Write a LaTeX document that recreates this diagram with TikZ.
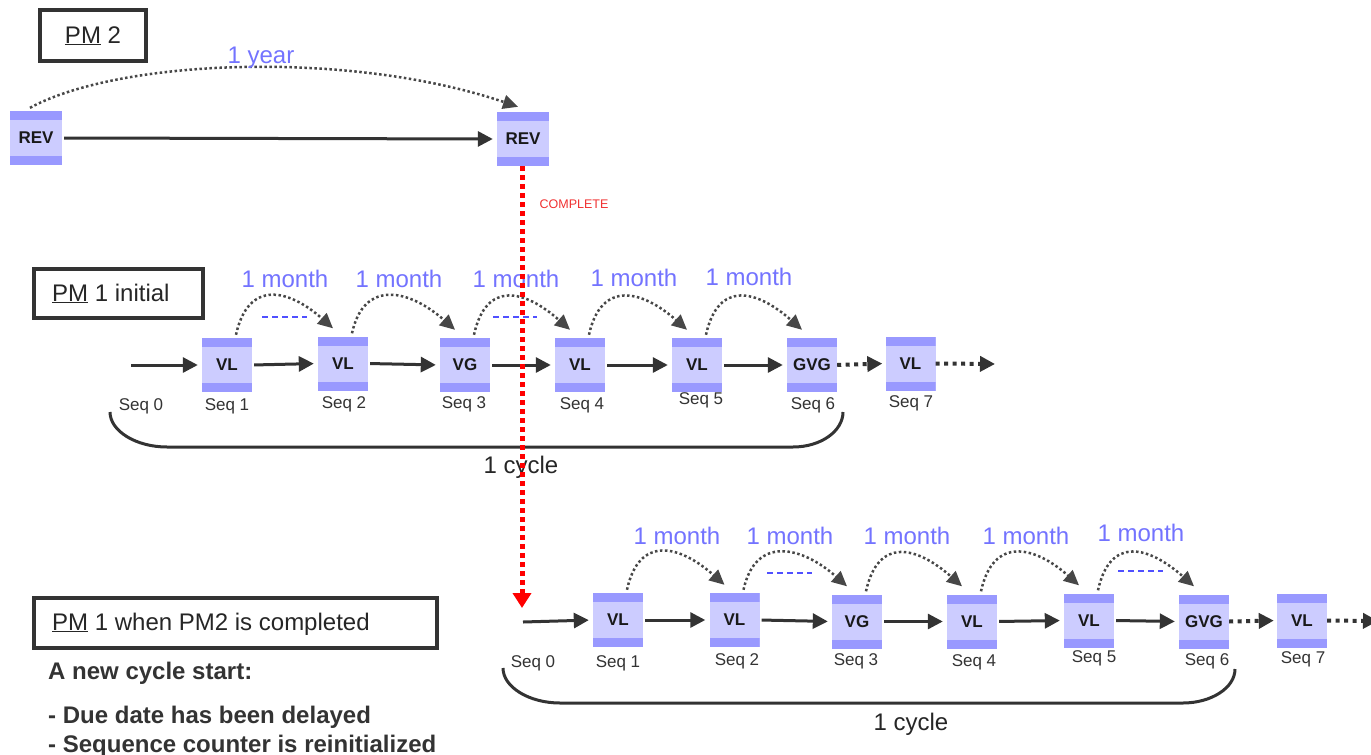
\documentclass[tikz,border=0pt]{standalone}
\usepackage{fontspec}
\setmainfont{Liberation Sans}
\usetikzlibrary{arrows.meta,calc}
\definecolor{boxfill}{HTML}{CCCCFF}
\definecolor{boxband}{HTML}{9999FF}
\definecolor{ink}{HTML}{333333}
\definecolor{lilac}{HTML}{7373FF}
\definecolor{guide}{HTML}{5050FF}
\definecolor{alert}{HTML}{FF0000}
\definecolor{alerttext}{HTML}{F03030}

\tikzset{
  stage/.style={minimum width=50pt, minimum height=54pt, inner sep=0pt, fill=boxfill,
    font=\fontsize{17}{20}\selectfont\bfseries, text=black!90,
    path picture={
      \fill[boxband] (path picture bounding box.north west) rectangle ([yshift=-9pt]path picture bounding box.north east);
      \fill[boxband] (path picture bounding box.south west) rectangle ([yshift=9pt]path picture bounding box.south east);}},
  titlebox/.style={draw=ink, line width=4pt, fill=white, inner sep=0pt},
  titletext/.style={anchor=base west, inner sep=0pt, text=black!85, font=\fontsize{24}{28}\selectfont},
  notetext/.style={anchor=base west, inner sep=0pt, text=ink, font=\fontsize{24}{28}\selectfont\bfseries},
  flow/.style={draw=ink, line width=3pt, -{Triangle[length=15pt,width=15pt]}, shorten <=2pt, shorten >=4pt},
  dotflow/.style={draw=ink, line width=4pt, dash pattern=on 4pt off 4.5pt, -{Triangle[length=15pt,width=15pt]}, shorten >=3pt},
  hop/.style={draw=ink!90, line width=2.5pt, dash pattern=on 2.5pt off 2.5pt, -{Triangle[length=15pt,width=14pt]}},
  period/.style={anchor=base, inner sep=0pt, text=lilac, font=\fontsize{24}{28}\selectfont},
  seqlbl/.style={anchor=base, inner sep=0pt, text=ink, font=\fontsize{17}{20}\selectfont},
  cyclebar/.style={draw=ink, line width=3pt},
  cycletext/.style={anchor=base, inner sep=0pt, text=black!85, font=\fontsize{24}{28}\selectfont},
  ghost/.style={draw=guide, line width=1.2pt, dash pattern=on 6pt off 4pt},
}

\begin{document}
\begin{tikzpicture}[x=1pt,y=-1pt]
\useasboundingbox (0,0) rectangle (1371,755);

% ---------- PM 2 : yearly revision ----------
\node[titlebox, minimum width=106pt, minimum height=51pt] (t2) at (92.5,35) {};
\node[titletext, anchor=base] (t2txt) at (93,43) {\underline{PM} 2};

\node[stage, minimum width=52pt] (r1) at (36,138) {REV};
\node[stage, minimum width=52pt] (r2) at (523,139) {REV};
\draw[flow] (r1.east) -- (r2.west);
\draw[hop] ([xshift=-6pt,yshift=3pt]r1.north) .. controls +(90,-49) and +(-168,-57) .. ([xshift=-5pt,yshift=5pt]r2.north);
\node[period] (yr) at (261,63) {1 year};

\node[anchor=base, inner sep=0pt, text=alerttext, font=\fontsize{12.5}{14}\selectfont] (done) at (574,208) {COMPLETE};

% ---------- PM 1 initial ----------
\node[titlebox, minimum width=169pt, minimum height=49pt] (t1) at (118.5,293.5) {};
\node[titletext] (t1txt) at (52,301) {\underline{PM} 1 initial};

\coordinate (a0) at (131,365);
\node[stage] (a1) at (227,365) {VL};
\node[stage] (a2) at (343,363.5) {VL};
\node[stage] (a3) at (465,365) {VG};
\node[stage] (a4) at (580,365) {VL};
\node[stage] (a5) at (697,365) {VL};
\node[stage] (a6) at (812,365) {GVG};
\node[stage] (a7) at (910.5,363.5) {VL};
\coordinate (a8) at (995,364);

\draw[flow, shorten <=0pt] (a0) -- (a1.west);
\foreach \p/\q in {a1/a2,a2/a3,a3/a4,a4/a5,a5/a6}
  \draw[flow] (\p.east) -- (\q.west);
\draw[dotflow] (a6.east) -- (a7.west);
\draw[dotflow, shorten >=0pt] (a7.east) -- (a8);

\draw[ghost] (262,317) -- (307,317);
\draw[ghost] (493,317) -- (537,317);
\foreach \p/\q in {a1/a2,a2/a3,a3/a4,a4/a5,a5/a6}
  \draw[hop] ([xshift=9pt,yshift=3pt]\p.north) .. controls +(12,-55) and +(-45,-40) .. ([xshift=-10pt,yshift=8pt]\q.north);

\node[period] (am1) at (285,287) {1 month};
\node[period] (am2) at (399,287) {1 month};
\node[period] (am3) at (516,287) {1 month};
\node[period] (am4) at (634,286) {1 month};
\node[period] (am5) at (749,285) {1 month};

\node[seqlbl] (as0) at (141,410) {Seq 0};
\node[seqlbl] (as1) at (227,410) {Seq 1};
\node[seqlbl] (as2) at (344,408) {Seq 2};
\node[seqlbl] (as3) at (464,408) {Seq 3};
\node[seqlbl] (as4) at (582,409) {Seq 4};
\node[seqlbl] (as5) at (701,404) {Seq 5};
\node[seqlbl] (as6) at (813,409) {Seq 6};
\node[seqlbl] (as7) at (911,407) {Seq 7};

\coordinate (k1) at (110,412);
\coordinate (k2) at (843,412);
\draw[cyclebar] (k1) .. controls +(0,19) and +(-31,0) .. (167,447) -- (793,447) .. controls +(28,0) and +(0,19) .. (k2);
\node[cycletext] (cy1) at (521,473) {1 cycle};

% ---------- PM 1 when PM2 is completed ----------
\node[titlebox, minimum width=403pt, minimum height=50pt] (t3) at (235.5,623) {};
\node[titletext] (t3txt) at (52,630) {\underline{PM} 1 when PM2 is completed};
\node[notetext] (n1) at (48,679) {A new cycle start:};
\node[notetext] (n2) at (48,723) {- Due date has been delayed};
\node[notetext] (n3) at (48,752) {- Sequence counter is reinitialized};

\coordinate (c0) at (523,622);
\node[stage] (c1) at (618,620) {VL};
\node[stage] (c2) at (734.5,620) {VL};
\node[stage] (c3) at (857,621.5) {VG};
\node[stage] (c4) at (972,621.5) {VL};
\node[stage] (c5) at (1089,620.5) {VL};
\node[stage] (c6) at (1204,621.5) {GVG};
\node[stage] (c7) at (1302,620.5) {VL};
\coordinate (c8) at (1378,621);

\draw[flow, shorten <=0pt] (c0) -- (c1.west);
\foreach \p/\q in {c1/c2,c2/c3,c3/c4,c4/c5,c5/c6}
  \draw[flow] (\p.east) -- (\q.west);
\draw[dotflow] (c6.east) -- (c7.west);
\draw[dotflow, shorten >=0pt] (c7.east) -- (c8);

\draw[ghost] (767,573) -- (812,573);
\draw[ghost] (1118,571) -- (1163,571);
\foreach \p/\q in {c1/c2,c2/c3,c3/c4,c4/c5,c5/c6}
  \draw[hop] ([xshift=9pt,yshift=3pt]\p.north) .. controls +(12,-55) and +(-45,-40) .. ([xshift=-10pt,yshift=8pt]\q.north);

\node[period] (cm1) at (677,544) {1 month};
\node[period] (cm2) at (790,544) {1 month};
\node[period] (cm3) at (907,544) {1 month};
\node[period] (cm4) at (1026,544) {1 month};
\node[period] (cm5) at (1141,541) {1 month};

\node[seqlbl] (cs0) at (533,667) {Seq 0};
\node[seqlbl] (cs1) at (618,667) {Seq 1};
\node[seqlbl] (cs2) at (737,665) {Seq 2};
\node[seqlbl] (cs3) at (856,665) {Seq 3};
\node[seqlbl] (cs4) at (974,666) {Seq 4};
\node[seqlbl] (cs5) at (1094,662) {Seq 5};
\node[seqlbl] (cs6) at (1207,665) {Seq 6};
\node[seqlbl] (cs7) at (1303,663) {Seq 7};

\coordinate (m1) at (503,668);
\coordinate (m2) at (1235,669);
\draw[cyclebar] (m1) .. controls +(0,19) and +(-31,0) .. (560,703) -- (1183,703) .. controls +(28,0) and +(0,19) .. (m2);
\node[cycletext] (cy2) at (911,730) {1 cycle};

% ---------- completion of PM 2 restarts PM 1 ----------
\coordinate (drop) at (522,608);
\draw[alert, line width=5pt, dash pattern=on 5pt off 4pt, -{Triangle[length=15pt,width=18pt]}] (r2.south -| drop) -- (drop);
\end{tikzpicture}
\end{document}
